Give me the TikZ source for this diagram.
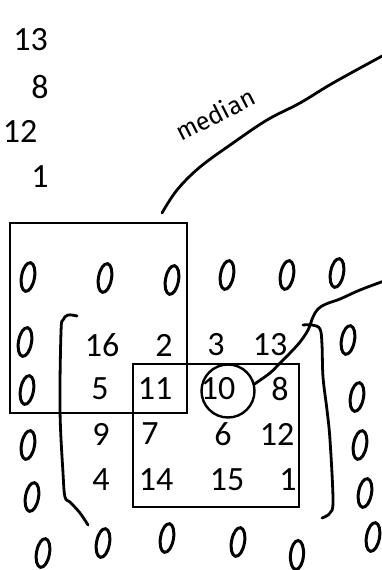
\documentclass[tikz,border=0pt]{standalone}
\usepackage{fontspec}
\setmainfont{Carlito}
\newfontfamily\handfont{Fira Sans}
\newcommand\ozero[3][-10]{\draw[zero,rotate around={#1:(#2,-#3)}] (#2,-#3) ellipse (6.5 and 14.5);}
\begin{document}
\begin{tikzpicture}[x=1pt,y=1pt,
  num/.style={inner sep=0pt, font=\fontsize{34}{34}\selectfont},
  frame/.style={draw, line width=1.6pt, inner sep=0pt},
  pen/.style={line width=2.8pt, line cap=round, line join=round},
  zero/.style={line width=3pt},
]
\useasboundingbox (0,0) rectangle (381,-570);

% column of values on the left
\node[num] (l13) at (30.5,-40) {13};
\node[num] (l8)  at (40,-87)   {8};
\node[num] (l12) at (20,-131)  {12};
\node[num] (l1)  at (40,-177)  {1};

% the 4x4 grid
\node[num] (g11) at (102,-345) {16};
\node[num] (g12) at (164,-345) {2};
\node[num] (g13) at (216,-345) {3};
\node[num] (g14) at (270,-345) {13};
\node[num] (g21) at (100,-389) {5};
\node[num] (g22) at (155,-389) {11};
\node[num] (g23) at (218,-389) {10};
\node[num] (g24) at (280,-389) {8};
\node[num] (g31) at (101,-434) {9};
\node[num] (g32) at (150,-434) {7};
\node[num] (g33) at (223,-434) {6};
\node[num] (g34) at (277,-434) {12};
\node[num] (g41) at (101,-480) {4};
\node[num] (g42) at (156,-480) {14};
\node[num] (g43) at (227,-480) {15};
\node[num] (g44) at (288,-480) {1};

% sliding windows
\node[frame, minimum width=177pt, minimum height=190pt] (boxA) at (98.5,-318) {};
\node[frame, minimum width=166pt, minimum height=143pt] (boxB) at (216,-435.5) {};

% median annotation
\coordinate (mTop) at (162,-213);
\coordinate (mEnd) at (384,-55);
\draw[pen] plot[smooth, tension=0.6] coordinates {(mTop) (177,-190) (200,-167) (233,-143) (267,-120) (300,-103) (333,-83) (mEnd)};
\node[font=\handfont\fontsize{25}{25}\selectfont, rotate=27, inner sep=0pt] (med) at (215,-114) {median};

% circled centre value and its pointer
\node[draw, circle, line width=2.4pt, minimum size=53pt, inner sep=0pt] (ring) at (228,-391) {};
\coordinate (rEnd) at (384,-281);
\draw[pen] plot[smooth, tension=0.6] coordinates {(ring.15) (270,-373) (280,-363) (290,-353) (300,-342) (308,-330) (313,-317) (318,-309) (326,-304) (340,-299) (360,-290) (rEnd)};

% brackets around the padded grid
\draw[pen] plot[smooth, tension=0.6] coordinates {(77,-316) (68,-315) (63,-320) (61,-332) (60,-410) (63,-473) (65,-497) (70,-502) (80,-513) (88,-525)};
\draw[pen] plot[smooth, tension=0.6] coordinates {(303,-325) (312,-325) (320,-329) (322,-345) (323,-377) (327,-410) (330,-440) (333,-500) (330,-513) (322,-518)};

% zero padding
\ozero{28}{277}
\ozero{105}{278}
\ozero{172}{280}
\ozero{227}{275}
\ozero{287}{275}
\ozero{337}{273}
\ozero{25}{342}
\ozero{27}{390}
\ozero{28}{445}
\ozero{32}{497}
\ozero{43}{553}
\ozero{103}{543}
\ozero{167}{538}
\ozero{238}{542}
\ozero[-5]{297}{555}
\ozero{373}{537}
\ozero{348}{340}
\ozero{357}{397}
\ozero{360}{445}
\ozero{365}{493}
\end{tikzpicture}
\end{document}
